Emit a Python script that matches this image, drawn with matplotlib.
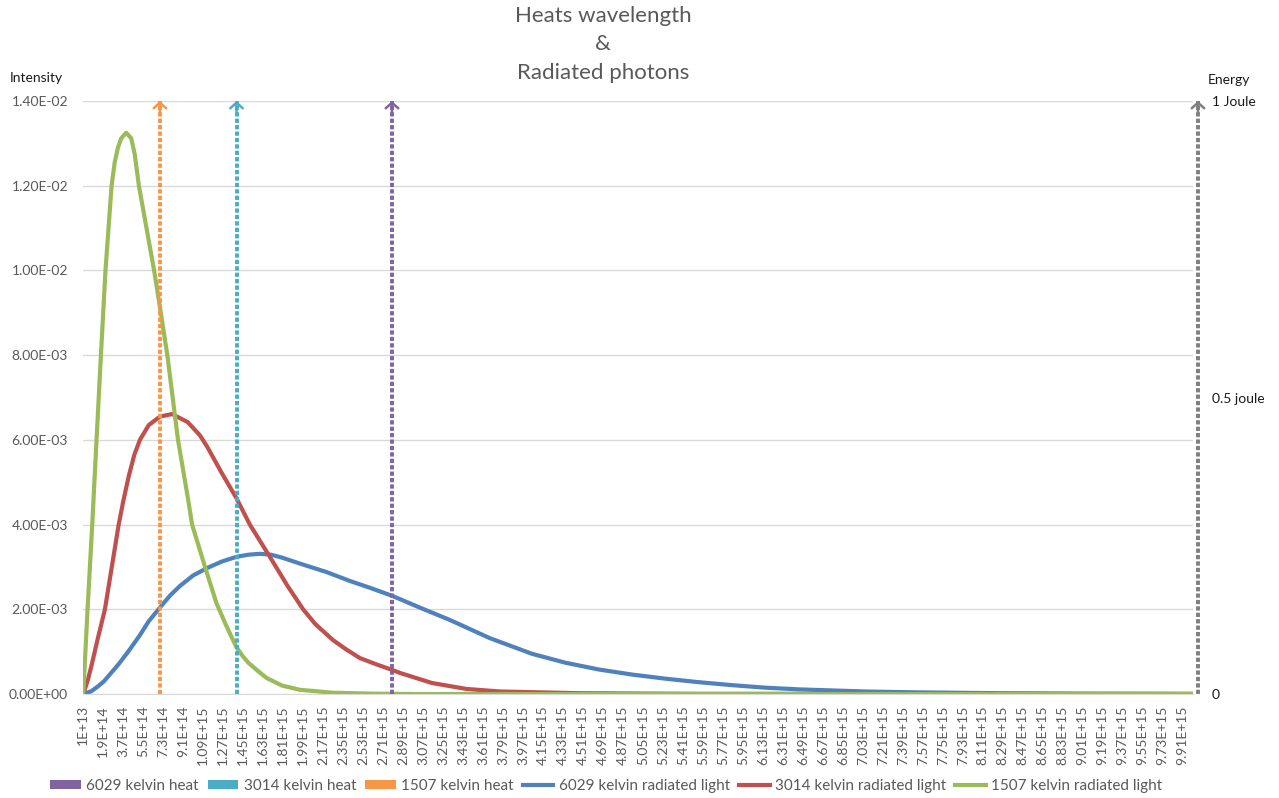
import numpy as np
import matplotlib
matplotlib.use('Agg')
import matplotlib.pyplot as plt
from matplotlib.patches import Patch
from matplotlib.lines import Line2D
from matplotlib.ticker import FuncFormatter

plt.rcParams['font.family'] = ['Lato', 'DejaVu Sans']

# frequency (Hz) and intensity (x 1e-3)
freq_6029 = [0.01e15, 0.085e15, 0.142e15, 0.196e15, 0.324e15, 0.42e15, 0.52e15, 0.60e15,
             0.70e15, 0.79e15, 0.88e15, 1.0e15, 1.13e15, 1.26e15, 1.39e15, 1.50e15,
             1.60e15, 1.70e15, 1.80e15, 1.96e15, 2.20e15, 2.41e15, 2.60e15, 2.79e15,
             3.05e15, 3.31e15, 3.67e15, 4.05e15, 4.35e15, 4.65e15, 4.95e15, 5.26e15,
             5.55e15, 5.85e15, 6.15e15, 6.45e15, 7.05e15, 7.50e15, 8.24e15, 9.0e15,
             10.0e15]
int_6029 = [0, 0.07, 0.18, 0.30, 0.69, 1.02, 1.39, 1.72,
            2.04, 2.32, 2.55, 2.80, 2.98, 3.13, 3.24, 3.29,
            3.31, 3.29, 3.22, 3.08, 2.88, 2.67, 2.50, 2.32,
            2.03, 1.75, 1.32, 0.95, 0.74, 0.58, 0.46, 0.36,
            0.28, 0.21, 0.15, 0.11, 0.06, 0.04, 0.02, 0.01,
            0.005]

freq_3014 = [0.01e15, 0.05e15, 0.085e15, 0.14e15, 0.205e15, 0.27e15, 0.329e15, 0.37e15,
             0.42e15, 0.47e15, 0.52e15, 0.60e15, 0.70e15, 0.81e15, 0.95e15, 1.06e15,
             1.13e15, 1.25e15, 1.39e15, 1.51e15, 1.69e15, 1.85e15, 1.99e15, 2.10e15,
             2.26e15, 2.38e15, 2.50e15, 2.65e15, 2.79e15, 2.86e15, 3.15e15, 3.46e15,
             3.76e15, 4.47e15, 5.5e15, 10.0e15]
int_3014 = [0, 0.32, 0.68, 1.30, 2.0, 3.05, 4.0, 4.55,
            5.15, 5.65, 6.0, 6.35, 6.55, 6.61, 6.42, 6.11,
            5.82, 5.25, 4.62, 4.0, 3.24, 2.55, 2.0, 1.65,
            1.27, 1.05, 0.85, 0.70, 0.57, 0.50, 0.26, 0.12,
            0.06, 0.02, 0.005, 0]

freq_1507 = [0.01e15, 0.0486e15, 0.0908e15, 0.1295e15, 0.169e15, 0.21e15, 0.265e15, 0.293e15,
             0.322e15, 0.352e15, 0.397e15, 0.442e15, 0.473e15, 0.511e15, 0.648e15, 0.70e15,
             0.767e15, 0.863e15, 0.955e15, 0.99e15, 1.11e15, 1.21e15, 1.30e15, 1.39e15,
             1.45e15, 1.50e15, 1.58e15, 1.66e15, 1.80e15, 1.96e15, 2.26e15, 2.6e15,
             3.0e15, 10.0e15]
int_1507 = [0, 2.0, 4.0, 6.0, 8.0, 10.0, 12.0, 12.55,
            12.9, 13.12, 13.25, 13.12, 12.75, 12.0, 10.0, 9.14,
            8.0, 6.0, 4.58, 4.0, 2.97, 2.14, 1.6, 1.10,
            0.88, 0.73, 0.55, 0.38, 0.20, 0.10, 0.03, 0.01,
            0, 0]

# heat markers (energy axis, 1 Joule)
heat_labels = ['6029 kelvin heat', '3014 kelvin heat', '1507 kelvin heat']
heat_freq = [2.79e15, 1.39e15, 0.70e15]
heat_energy = [1, 1, 1]
heat_colors = ['#8064A2', '#4BACC6', '#F79646']

light_labels = ['6029 kelvin radiated light', '3014 kelvin radiated light', '1507 kelvin radiated light']
light_colors = ['#4F81BD', '#C0504D', '#9BBB59']

x_ticks = [1e13 + 1.8e14 * i for i in range(56)]


def excel_fmt(v):
    m, e = f"{v:.2E}".split("E")
    m = m.rstrip('0').rstrip('.')
    return f"{m}E+{int(e)}"


x_labels = [excel_fmt(v) for v in x_ticks]

fig = plt.figure(figsize=(12.79, 7.98), dpi=100)
ax = fig.add_axes([0.0651, 0.1303, 0.8674, 0.7431])

series = [(freq_6029, int_6029), (freq_3014, int_3014), (freq_1507, int_1507)]
for (f, v), c, lab in zip(series, light_colors, light_labels):
    ax.plot(f, np.array(v) * 1e-3, color=c, lw=3.0, solid_capstyle='round',
            solid_joinstyle='round', label=lab, zorder=3)

ax.set_xlim(1e13, 1e16)
ax.set_ylim(0, 0.014)
ax.set_yticks(np.arange(0, 0.0141, 0.002))
ax.yaxis.set_major_formatter(FuncFormatter(lambda v, p: f"{v:.2E}"))
ax.set_xticks(x_ticks)
ax.set_xticklabels(x_labels, rotation=90)
ax.tick_params(axis='both', length=0, labelsize=10, colors='#595959')
ax.tick_params(axis='x', pad=8)
ax.tick_params(axis='y', pad=11)
ax.grid(axis='y', color='#D9D9D9', lw=1)
ax.grid(axis='x', visible=False)
for s in ['top', 'right', 'left']:
    ax.spines[s].set_visible(False)
ax.spines['bottom'].set_color('#D9D9D9')

ax2 = ax.twinx()
ax2.set_ylim(0, 1)
ax2.set_yticks([0, 0.5, 1])
ax2.set_yticklabels(['0', '0.5 joule', '1 Joule'])
ax2.tick_params(axis='y', length=0, labelsize=10, colors='#1a1a1a', pad=14)
for s in ax2.spines.values():
    s.set_visible(False)

for f, e, c in zip(heat_freq, heat_energy, heat_colors):
    ax2.plot([f, f], [0, e], color=c, lw=2.8, linestyle=(0, (1.1, 0.55)), zorder=5)
    ax2.annotate('', xy=(f, e), xytext=(f, e - 0.02),
                 arrowprops=dict(arrowstyle='->,head_width=0.45,head_length=0.4',
                                 color=c, lw=1.8, shrinkA=0, shrinkB=0), zorder=6)

# energy axis arrow
tr = ax2.get_yaxis_transform()
ax2.plot([1.0048, 1.0048], [0, 1], transform=tr, color='#7F7F7F', lw=2.8,
         linestyle=(0, (1.1, 0.55)), clip_on=False)
ax2.annotate('', xy=(1.0048, 1), xytext=(1.0048, 0.98), xycoords=tr, textcoords=tr,
             arrowprops=dict(arrowstyle='->,head_width=0.45,head_length=0.4',
                             color='#7F7F7F', lw=1.8, shrinkA=0, shrinkB=0))

fig.text(0.4715, 0.980, 'Heats wavelength', ha='center', va='center', fontsize=16, color='#595959')
fig.text(0.4715, 0.9449, '&', ha='center', va='center', fontsize=16, color='#595959')
fig.text(0.4715, 0.9085, 'Radiated photons', ha='center', va='center', fontsize=16, color='#595959')

fig.text(10 / 1279, 1 - 78 / 798, 'Intensity', ha='left', va='center', fontsize=10, color='#1a1a1a')
fig.text(1208 / 1279, 1 - 80 / 798, 'Energy', ha='left', va='center', fontsize=10, color='#1a1a1a')

handles = [Patch(facecolor=c, edgecolor='none') for c in heat_colors]
handles += [Line2D([0], [0], color=c, lw=3) for c in light_colors]
fig.legend(handles, heat_labels + light_labels, loc='center', ncol=6,
           bbox_to_anchor=(0.474, 0.015), frameon=False, fontsize=11,
           handlelength=2.0, handleheight=0.55, handletextpad=0.35, columnspacing=0.6,
           labelcolor='#595959')

fig.savefig('out.png', dpi=100)
